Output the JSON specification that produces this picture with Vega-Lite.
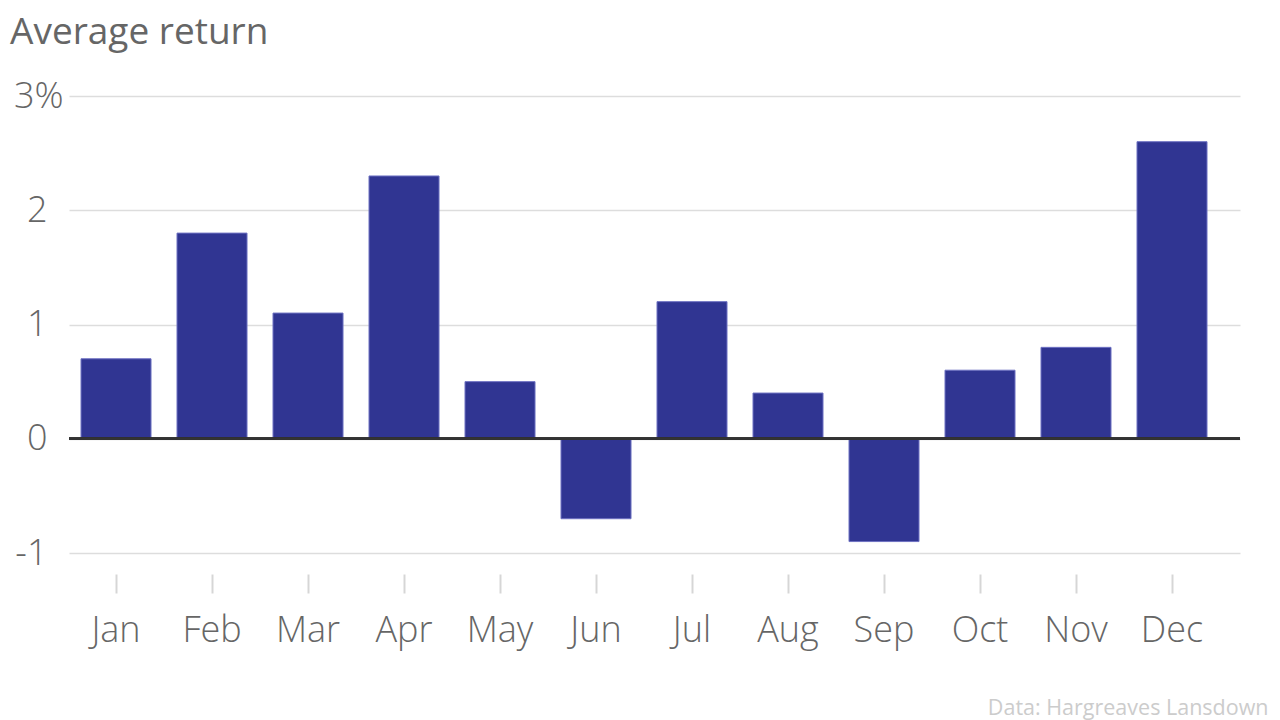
{
  "$schema": "https://vega.github.io/schema/vega-lite/v6.json",
  "autosize": {"type": "none"},
  "padding": {"left": 69, "top": 96, "right": 40, "bottom": 167},
  "width": 1171,
  "height": 457,
  "background": "white",
  "title": {
    "text": "Average return",
    "anchor": "start",
    "frame": "group",
    "dx": -59,
    "offset": 26,
    "font": "Open Sans",
    "fontSize": 37,
    "fontWeight": "normal",
    "color": "#666666"
  },
  "data": {
    "values": [
      {"month": "Jan", "ret": 0.7},
      {"month": "Feb", "ret": 1.8},
      {"month": "Mar", "ret": 1.1},
      {"month": "Apr", "ret": 2.3},
      {"month": "May", "ret": 0.5},
      {"month": "Jun", "ret": -0.7},
      {"month": "Jul", "ret": 1.2},
      {"month": "Aug", "ret": 0.4},
      {"month": "Sep", "ret": -0.9},
      {"month": "Oct", "ret": 0.6},
      {"month": "Nov", "ret": 0.8},
      {"month": "Dec", "ret": 2.6}
    ]
  },
  "layer": [
    {
      "mark": {"type": "bar", "color": "#303592", "stroke": "#6d71c2", "strokeWidth": 1},
      "encoding": {
        "x": {
          "field": "month",
          "type": "ordinal",
          "sort": null,
          "scale": {"paddingInner": 0.2708, "paddingOuter": 0.2344, "align": 0.267},
          "axis": {
            "title": "Data: Hargreaves Lansdown",
            "titleX": 1199,
            "titleY": 140,
            "titleAlign": "right",
            "titleAnchor": null,
            "titleBaseline": "alphabetic",
            "titleFont": "Open Sans",
            "titleFontSize": 21.5,
            "titleFontWeight": "normal",
            "titleColor": "#cccccc",
            "domain": false,
            "offset": 21,
            "ticks": true,
            "tickSize": 19,
            "tickWidth": 2,
            "tickColor": "#d6d6d6",
            "labelAngle": 0,
            "labelPadding": 20,
            "labelFont": "Open Sans",
            "labelFontWeight": 300,
            "labelFontSize": 36,
            "labelColor": "#666666"
          }
        },
        "y": {
          "field": "ret",
          "type": "quantitative",
          "scale": {"domain": [-1, 3], "nice": false, "zero": false},
          "axis": {
            "title": null,
            "values": [-1, 0, 1, 2, 3],
            "labelExpr": "datum.value == 3 ? '3%' : '' + datum.value",
            "domain": false,
            "ticks": false,
            "labelAlign": "right",
            "labelBaseline": "middle",
            "labelPadding": {"expr": "datum.value == 3 ? 6 : 22"},
            "labelFont": "Open Sans",
            "labelFontWeight": 300,
            "labelFontSize": 36,
            "labelColor": "#666666",
            "grid": true,
            "gridColor": "#dddddd",
            "gridWidth": 1.5
          }
        }
      }
    },
    {
      "mark": {"type": "rule", "color": "#333333", "strokeWidth": 2},
      "encoding": {"y": {"datum": 0}}
    }
  ],
  "config": {"view": {"stroke": null}}
}
